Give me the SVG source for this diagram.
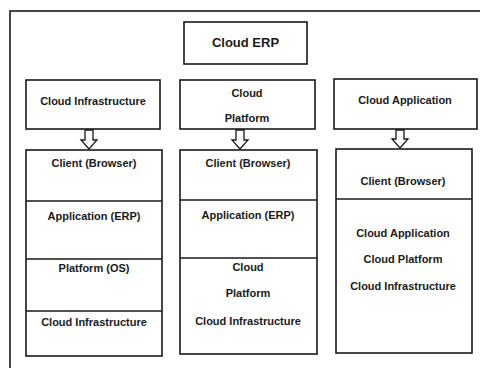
<svg xmlns="http://www.w3.org/2000/svg" width="480" height="368" viewBox="0 0 480 368">
<style>
.b{fill:#fff;stroke:#1a1a1a;stroke-width:1.6}
.l{stroke:#1a1a1a;stroke-width:1.6;fill:none}
.t{font-family:"Liberation Sans",Arial,sans-serif;font-size:11px;font-weight:bold;fill:#1a1a1a;text-anchor:middle}
.h{font-size:13px}
.a{fill:#fff;stroke:#1a1a1a;stroke-width:1.3;stroke-linejoin:miter}
</style>
<rect width="480" height="368" fill="#fff"/>
<rect id="frame" class="b" x="10" y="11" width="480" height="370"/>
<g id="cloud-erp"><rect class="b" x="184" y="22" width="123" height="42"/><text class="t h" x="245.5" y="47">Cloud ERP</text></g>
<g id="cloud-infrastructure"><rect class="b" x="26" y="80" width="134" height="49"/><text class="t" x="93" y="105">Cloud Infrastructure</text></g>
<g id="cloud-platform"><rect class="b" x="180" y="80" width="135" height="49"/><text class="t" x="247" y="97">Cloud</text><text class="t" x="247" y="122">Platform</text></g>
<g id="cloud-application"><rect class="b" x="334" y="79" width="143" height="50"/><text class="t" x="405" y="104">Cloud Application</text></g>
<g id="connectors">
<path class="a" d="M85,130 V140 H81 L89,149 L97,140 H93 V130 Z"/>
<path class="a" d="M236,130 V140 H232 L240,149 L248,140 H244 V130 Z"/>
<path class="a" d="M396,130 V139 H392 L400,148 L408,139 H404 V130 Z"/>
</g>
<g id="stack-infrastructure">
<rect class="b" x="26" y="150" width="136" height="206"/>
<path class="l" d="M26,201 H162 M26,259 H162 M26,311 H162"/>
<text class="t" x="94" y="167">Client (Browser)</text>
<text class="t" x="94" y="220">Application (ERP)</text>
<text class="t" x="94" y="272">Platform (OS)</text>
<text class="t" x="94" y="326">Cloud Infrastructure</text>
</g>
<g id="stack-platform">
<rect class="b" x="180" y="150" width="137" height="204"/>
<path class="l" d="M180,200 H317 M180,258 H317"/>
<text class="t" x="248" y="167">Client (Browser)</text>
<text class="t" x="248" y="219">Application (ERP)</text>
<text class="t" x="248" y="271">Cloud</text>
<text class="t" x="248" y="297">Platform</text>
<text class="t" x="248" y="325">Cloud Infrastructure</text>
</g>
<g id="stack-application">
<rect class="b" x="336" y="149" width="136" height="204"/>
<path class="l" d="M336,199 H472"/>
<text class="t" x="403" y="185">Client (Browser)</text>
<text class="t" x="403" y="237">Cloud Application</text>
<text class="t" x="403" y="263">Cloud Platform</text>
<text class="t" x="403" y="290">Cloud Infrastructure</text>
</g>
</svg>
